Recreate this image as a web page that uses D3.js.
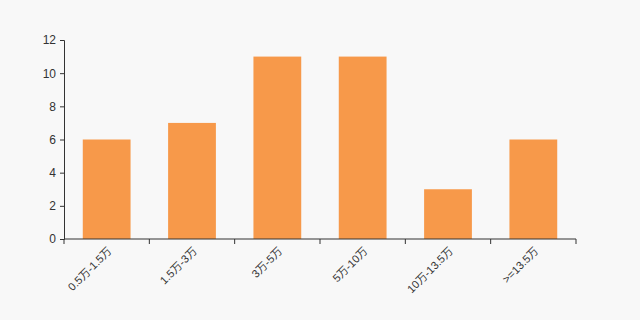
<!DOCTYPE html>
<html>
<head>
<meta charset="utf-8">
<script src="https://cdn.jsdelivr.net/npm/d3@7"></script>
<style>
  html, body { margin: 0; padding: 0; background: #f8f8f8; }
  svg { display: block; }
</style>
</head>
<body>
<svg id="chart"></svg>
<script>
const width = 640;
const height = 320;
const margin = {top: 40, right: 64, bottom: 81, left: 64};

const categories = ['0.5万-1.5万', '1.5万-3万', '3万-5万', '5万-10万', '10万-13.5万', '>=13.5万'];
const counts = [6, 7, 11, 11, 3, 6];
const yTicks = [0, 2, 4, 6, 8, 10, 12];

const svg = d3.select('#chart')
    .attr('width', width)
    .attr('height', height);

const x = d3.scaleBand()
    .domain(categories)
    .range([margin.left, width - margin.right])
    .paddingInner(0.44)
    .paddingOuter(0.22);

const y = d3.scaleLinear()
    .domain([0, 12])
    .range([height - margin.bottom, margin.top]);

svg.append('g')
    .selectAll('rect')
    .data(categories).enter().append('rect')
    .attr('x', d => x(d))
    .attr('y', (d, i) => y(counts[i]))
    .attr('width', x.bandwidth())
    .attr('height', (d, i) => y(0) - y(counts[i]))
    .style('fill', '#f7994a');

// x axis: ticks on band boundaries, labels at band centres
const xAxis = svg.append('g')
    .attr('transform', `translate(0, ${height - margin.bottom})`);
xAxis.append('line')
    .attr('x1', margin.left).attr('x2', width - margin.right)
    .attr('stroke', '#333');
const bounds = d3.range(categories.length + 1).map(i => margin.left + i * (width - margin.left - margin.right) / categories.length);
xAxis.selectAll('.bt')
    .data(bounds).enter().append('line')
    .attr('x1', d => d).attr('x2', d => d)
    .attr('y1', 0).attr('y2', 5)
    .attr('stroke', '#333');
xAxis.selectAll('text')
    .data(categories).enter().append('text')
    .attr('transform', d => `translate(${x(d) + x.bandwidth() / 2 + 3}, 10) rotate(-45)`)
    .attr('text-anchor', 'end')
    .attr('dy', '0.35em')
    .style('font-family', '"Liberation Sans", "Noto Sans CJK SC", sans-serif')
    .style('font-size', '11px')
    .style('fill', '#333')
    .text(d => d);

const yAxis = svg.append('g')
    .attr('transform', `translate(${margin.left}, 0)`)
    .call(d3.axisLeft(y).tickValues(yTicks).tickSizeOuter(0).tickSize(4).tickPadding(4));
yAxis.select('.domain').attr('stroke', '#333');
yAxis.selectAll('.tick line').attr('stroke', '#333');
yAxis.selectAll('.tick text')
    .style('font-family', '"Liberation Sans", sans-serif')
    .style('font-size', '12px')
    .style('fill', '#333');
</script>
</body>
</html>
